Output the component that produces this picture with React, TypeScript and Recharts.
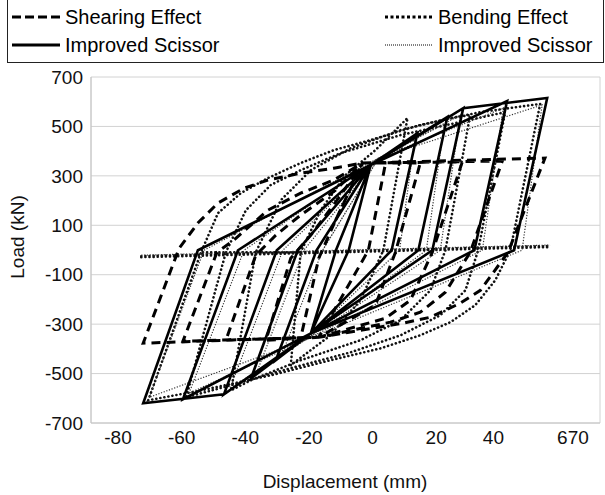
import React from 'react';
import { LineChart, Line, XAxis, YAxis, CartesianGrid } from 'recharts';

type Pt = [number, number | null];

// axis ticks (labels sit between the grid lines in the original)
const xTicks = [-80, -60, -40, -20, 0, 20, 38, 63];
const xTickLabels = ['-80', '-60', '-40', '-20', '0', '20', '40', '670'];
const xGrid = [-88.5, -68.5, -48.5, -28.5, -8.5, 11.5, 31.5, 51.5, 71.5];
const yTicks = [-700, -500, -300, -100, 100, 300, 500, 700];

// Shearing Effect (dashed)
const shearEffect: Pt[] = [
  [-11.6, 121], [-3.1, 352],
  [4.1, 352], [-1.3, -1], [-16.9, -353], [-22.6, -357], [-16.9, -33], [-11.6, 121], [-3.1, 352],
  [15, 352], [7.2, -9], [0.9, -223], [-16.9, -353], [-33.5, -365], [-25.7, -33], [-19.4, 60], [-10, 222], [-3.1, 352],
  [28.2, 356], [18.8, -9], [11.9, -203], [4.1, -276], [-16.9, -353], [-46.1, -365], [-36.7, -21], [-30.4, 60], [-22.6, 141], [-11.6, 242], [-3.1, 352],
  [40.8, 360], [30.7, -9], [22.9, -171], [15, -252], [5.6, -292], [-16.9, -353], [-59.6, -369], [-48.9, -9], [-43.6, 40], [-32.9, 161], [-22.6, 230], [-12.2, 283], [-3.1, 352],
  [54.2, 372], [42.6, -9], [33.9, -163], [27.6, -215], [18.2, -272], [9.7, -296], [-3.8, -325], [-16.9, -353], [-72.1, -377], [-60.8, 7], [-54.9, 109], [-48.6, 190], [-40.4, 250], [-32.9, 283], [-22.6, 311], [-12.2, 331], [-3.1, 352],
];

// Bending Effect (thick dots)
const bendingEffect: Pt[] = [
  [-22.6, -9], [-16.3, 161], [-8.5, 303], [0.9, 404], [11.0, 534], [3.4, -1], [-3.8, -203], [-13.2, -345], [-25.7, -466], [-22.6, -9],
  [-36.7, -9], [-28.8, 202], [-19.4, 323], [-6.9, 412], [8.8, 485], [24.5, 534], [30.7, 546], [22.9, -1], [18.2, -163], [8.8, -284], [-3.8, -365], [-22.6, -446], [-38.2, -527], [-44.5, -568], [-36.7, -9],
  [-46.1, -9], [-39.8, 161], [-32.0, 263], [-22.6, 323], [-10.0, 392], [8.8, 465], [27.6, 518], [41.7, 558], [33.2, -1], [29.2, -163], [21.3, -264], [8.8, -345], [-6.9, -414], [-25.7, -478], [-44.5, -547], [-58.6, -596], [-46.1, -9],
  [-53.9, -9], [-48.6, 149], [-41.4, 230], [-32.9, 291], [-22.6, 352], [-12.2, 404], [-0.6, 445], [15.0, 506], [33.9, 558], [52.7, 591], [43.3, -1], [38.6, -122], [32.3, -223], [24.5, -292], [15.0, -345], [2.5, -398], [-13.2, -446], [-32.0, -507], [-53.9, -568], [-70.5, -608], [-53.9, -9],
  [-53.9, null],
  [-72.7, -25], [55.8, 16],
  [55.8, null],
  [-72.7, -29], [55.8, 12],
];

// Improved Scissor (solid)
const scissorSolid: Pt[] = [
  [-11.5, -1], [-0.6, 344],
  [-7.5, -1], [-19.4, -337], [-11.5, -1], [-0.6, 344],
  [14.1, 473], [6.0, -1], [-19.4, -337], [-30.4, -446], [-17.6, -1], [-0.6, 344],
  [23.5, 538], [14.4, -1], [-19.4, -337], [-38.2, -519], [-23.5, -1], [-0.6, 344],
  [28.5, 574], [18.8, -1], [-19.4, -337], [-46.7, -584], [-30.1, -1], [-0.6, 344],
  [42.3, 603], [32.0, -1], [-19.4, -337], [-59.6, -604], [-42.3, -1], [-0.6, 344],
  [28.5, 574], [54.9, 615], [44.5, -1], [-19.4, -337], [-46.7, -584], [-72.1, -620], [-54.9, -1], [-0.6, 344],
];

// Improved Scissor (thin dots)
const scissorDotted: Pt[] = [
  [-15.7, -1], [1.9, 372],
  [13.2, 445], [8.5, -1], [-21.3, -365], [-28.5, -422], [-15.7, -1], [1.9, 372],
  [22.6, 510], [16.9, -1], [-21.3, -365], [-36.4, -495], [-21.6, -1], [1.9, 372],
  [27.6, 546], [21.3, -1], [-21.3, -365], [-44.8, -560], [-28.2, -1], [1.9, 372],
  [41.1, 574], [34.5, -1], [-21.3, -365], [-57.7, -580], [-40.4, -1], [1.9, 372],
  [53.3, 587], [47.0, -1], [-21.3, -365], [-70.2, -596], [-53.0, -1], [1.9, 372],
  [1.9, null],
  [-72.7, -21], [55.8, 20],
];

const toRows = (pts: Pt[]) => pts.map(([x, y]) => ({ x, y }));

const FONT = '"Liberation Sans", Arial, sans-serif';

function LegendSymbol({ kind }: { kind: string }) {
  const common = { x1: 2, y1: 6, x2: 50, y2: 6, stroke: '#000' };
  return (
    <svg width={52} height={12} style={{ display: 'block' }}>
      {kind === 'shear' && <line {...common} strokeWidth={3} strokeDasharray="9 4" />}
      {kind === 'bending' && (
        <line {...common} strokeWidth={3} strokeDasharray="3 2.5" />
      )}
      {kind === 'solid' && <line {...common} strokeWidth={3} />}
      {kind === 'thin' && <line {...common} strokeWidth={1} strokeDasharray="1 1" />}
    </svg>
  );
}

function LegendItem({ kind, label, left, top }: { kind: string; label: string; left: number; top: number }) {
  return (
    <div
      style={{
        position: 'absolute',
        left,
        top,
        display: 'flex',
        alignItems: 'center',
        gap: 3,
        fontSize: 20,
        fontFamily: FONT,
        color: '#000',
        whiteSpace: 'nowrap',
        lineHeight: '24px',
      }}
    >
      <LegendSymbol kind={kind} />
      <span>{label}</span>
    </div>
  );
}

export default function App() {
  return (
    <div style={{ position: 'absolute', left: 0, top: 0, width: 605, height: 495, background: '#fff', overflow: 'hidden' }}>
      <div
        style={{
          position: 'absolute',
          left: 7,
          top: -2,
          width: 597,
          height: 65,
          border: '1.5px solid #222',
          boxSizing: 'border-box',
        }}
      />
      <LegendItem kind="shear" label="Shearing Effect" left={10} top={5} />
      <LegendItem kind="bending" label="Bending Effect" left={383} top={5} />
      <LegendItem kind="solid" label="Improved Scissor" left={10} top={33} />
      <LegendItem kind="thin" label="Improved Scissor" left={383} top={33} />

      <LineChart
        width={605}
        height={495}
        margin={{ top: 77, right: 5, left: 0, bottom: 0 }}
        style={{ position: 'absolute', left: 0, top: 0 }}
      >
        <XAxis
          xAxisId="grid"
          type="number"
          dataKey="x"
          domain={[-88.5, 71.5]}
          ticks={xGrid}
          allowDataOverflow
          tick={false}
          tickLine={false}
          axisLine={false}
          height={0}
        />
        <CartesianGrid xAxisId="grid" stroke="#d2d2d2" strokeWidth={1} />
        <XAxis
          type="number"
          dataKey="x"
          domain={[-88.5, 71.5]}
          ticks={xTicks}
          allowDataOverflow
          interval={0}
          tickFormatter={(v: number) => xTickLabels[xTicks.indexOf(v)]}
          tick={{ fontSize: 19, fill: '#111', fontFamily: FONT }}
          tickLine={false}
          axisLine={{ stroke: '#c4c4c4' }}
          height={72}
        />
        <YAxis
          type="number"
          domain={[-700, 700]}
          ticks={yTicks}
          allowDataOverflow
          interval={0}
          width={91}
          tick={{ fontSize: 19, fill: '#111', fontFamily: FONT }}
          tickLine={false}
          axisLine={{ stroke: '#c4c4c4' }}
        />
        <Line data={toRows(bendingEffect)} dataKey="y" type="linear" stroke="#111" strokeWidth={2.6} strokeDasharray="0.1 4" strokeLinecap="round" dot={false} isAnimationActive={false} />
        <Line data={toRows(scissorDotted)} dataKey="y" type="linear" stroke="#333" strokeWidth={1.2} strokeDasharray="1.2 1.6" dot={false} isAnimationActive={false} />
        <Line data={toRows(shearEffect)} dataKey="y" type="linear" stroke="#000" strokeWidth={3} strokeDasharray="9 6" dot={false} isAnimationActive={false} />
        <Line data={toRows(scissorSolid)} dataKey="y" type="linear" stroke="#000" strokeWidth={2.6} dot={false} isAnimationActive={false} />
      </LineChart>

      <div
        style={{
          position: 'absolute',
          left: 18,
          top: 237,
          transform: 'translate(-50%, -50%) rotate(-90deg)',
          fontSize: 19,
          fontFamily: FONT,
          color: '#111',
          whiteSpace: 'nowrap',
        }}
      >
        Load (kN)
      </div>
      <div
        style={{
          position: 'absolute',
          left: 345,
          top: 482,
          transform: 'translate(-50%, -50%)',
          fontSize: 19,
          fontFamily: FONT,
          color: '#111',
          whiteSpace: 'nowrap',
        }}
      >
        Displacement (mm)
      </div>
    </div>
  );
}
